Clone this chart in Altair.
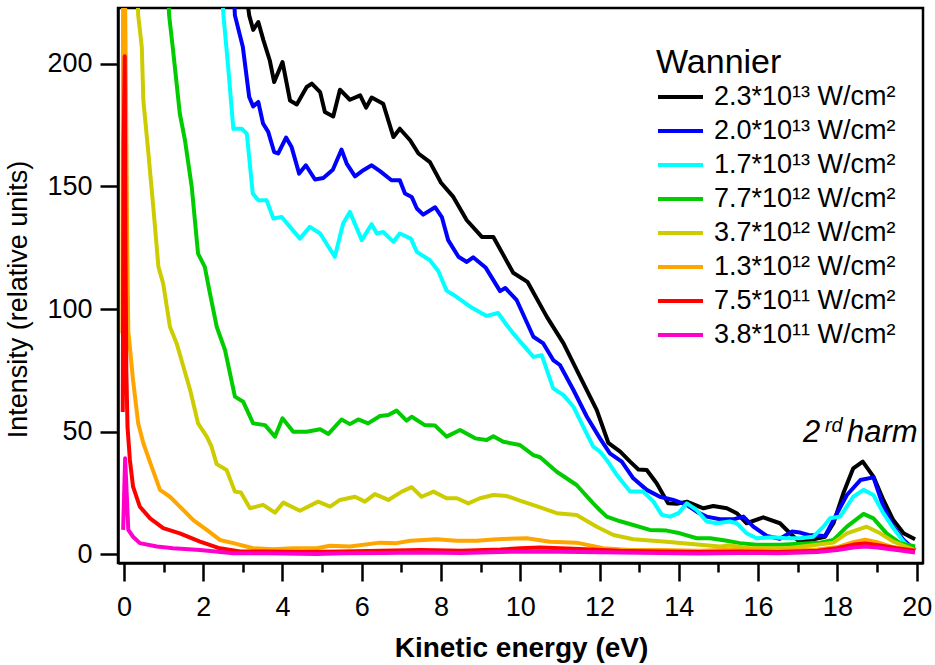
import altair as alt
import pandas as pd

# ---------------- data ----------------
labels = ["2.3*10¹³ W/cm²", "2.0*10¹³ W/cm²", "1.7*10¹³ W/cm²", "7.7*10¹² W/cm²",
          "3.7*10¹² W/cm²", "1.3*10¹² W/cm²", "7.5*10¹¹ W/cm²", "3.8*10¹¹ W/cm²"]
colors = ["#000000", "#0000ff", "#00ffff", "#00cc00", "#cccc00", "#ffa500", "#ff0000", "#ff00cc"]

black_x = [3.0, 3.16, 3.26, 3.39, 3.52, 3.68, 3.79, 4.0, 4.19, 4.36, 4.61, 4.74, 4.95, 5.07, 5.28, 5.45,
           5.70, 5.96, 6.11, 6.25, 6.54, 6.80, 6.96, 7.22, 7.43, 7.72, 8.0, 8.31, 8.65, 9.03, 9.32, 9.82,
           10.18, 10.67, 11.09, 11.51, 11.93, 12.22, 12.52, 12.77, 12.98, 13.19, 13.44, 13.73, 13.95,
           14.20, 14.62, 14.87, 15.21, 15.46, 15.71, 16.13, 16.55, 16.85, 17.06, 17.39, 17.69, 17.90,
           18.15, 18.40, 18.64, 18.91, 19.16, 19.41, 19.67, 19.96]
black_y = [240, 219.7, 213.8, 217, 209.5, 201.3, 192.5, 200.7, 185, 183.4, 190.5, 191.9, 188.4, 180.3,
           178.5, 189.4, 185.3, 187.1, 182.1, 186.2, 183.7, 170.1, 173.5, 168.8, 163.4, 159.9, 151.5,
           145.7, 136.2, 129.4, 129.4, 114.8, 111.1, 96.8, 86, 72.4, 58.8, 45.5, 41.9, 37.8, 34.6, 34.4,
           29, 20.8, 20.6, 21.5, 18.8, 19.7, 18.8, 16.8, 12.7, 15.1, 12.7, 7.9, 5.0, 6.2, 7.2, 12.7,
           24.9, 35.1, 37.8, 31.7, 22.2, 14.0, 8.6, 6.2]

blue_x = [2.75, 2.80, 3.0, 3.16, 3.26, 3.39, 3.51, 3.64, 3.79, 3.89, 4.09, 4.23, 4.42, 4.59, 4.82, 5.03,
          5.27, 5.49, 5.62, 5.83, 6.04, 6.25, 6.46, 6.75, 6.96, 7.09, 7.26, 7.39, 7.55, 7.85, 8.02, 8.18,
          8.44, 8.65, 8.81, 9.13, 9.49, 9.62, 9.91, 10.33, 10.58, 10.83, 11.0, 11.34, 11.68, 12.01,
          12.26, 12.56, 12.85, 13.19, 13.52, 13.86, 14.20, 14.45, 14.70, 15.04, 15.37, 15.63, 15.88,
          16.22, 16.55, 16.85, 17.06, 17.27, 17.69, 17.90, 18.24, 18.58, 18.91, 19.16, 19.41, 19.67, 19.96]
blue_y = [235, 219.7, 206.8, 186.4, 182.6, 184.4, 175.6, 172.2, 164.0, 163.4, 169.9, 166, 155.2, 158.6,
          152.8, 153.4, 156.8, 165, 159.3, 154.1, 156.6, 158.6, 156.2, 152.5, 152.5, 147.1, 145.7, 141,
          138.5, 141.5, 137.5, 128.1, 121.3, 119.2, 121.1, 116.8, 107.3, 108.6, 103.6, 88.7, 86, 79.2,
          77.2, 67, 56.1, 47.3, 41.2, 37.8, 31.0, 26.3, 23.5, 22.2, 20.2, 17.4, 15.4, 14.3, 14.3, 15.4,
          11.3, 7.5, 6.4, 9.3, 8.9, 7.9, 7.5, 14.0, 24.2, 30.3, 31.4, 19.5, 11.3, 5.9, 1.8]

cyan_x = [2.45, 2.51, 2.63, 2.76, 2.97, 3.10, 3.25, 3.39, 3.60, 3.77, 3.98, 4.19, 4.44, 4.69, 4.95, 5.32,
          5.53, 5.70, 6.0, 6.25, 6.38, 6.54, 6.80, 6.96, 7.24, 7.39, 7.72, 7.93, 8.14, 8.39, 8.77, 9.15,
          9.44, 9.66, 9.82, 10.33, 10.54, 10.83, 11.09, 11.34, 11.59, 11.84, 12.01, 12.18, 12.43, 12.77,
          13.10, 13.36, 13.57, 13.78, 13.99, 14.20, 14.45, 14.70, 14.95, 15.29, 15.46, 15.71, 15.96,
          16.38, 16.72, 17.06, 17.39, 17.65, 17.81, 18.07, 18.40, 18.66, 18.91, 19.16, 19.41, 19.67, 19.92]
cyan_y = [235, 219.7, 198.6, 173.5, 173.5, 171.5, 147.1, 144.3, 144.3, 136.9, 137.5, 133.5, 128.7, 133.5,
          130.8, 121.3, 134.9, 139.6, 128.1, 134.6, 130.8, 131.4, 127.4, 130.8, 128.7, 123.3, 119.9,
          115.5, 107.5, 105, 100.6, 97.2, 98.4, 93.4, 90.1, 80.5, 81.2, 67.7, 64.9, 60.2, 52, 43.9, 41.9,
          38.5, 32.5, 25.6, 25.6, 21.5, 16.1, 15.4, 16.8, 20.8, 18.1, 13.4, 12.7, 13.4, 12.7, 8.6, 6.6,
          7.0, 6.6, 6.6, 7.2, 11.3, 14.7, 15.4, 23.5, 26.3, 24.2, 16.8, 10.7, 5.2, 1.5]

green_x = [1.10, 1.14, 1.24, 1.41, 1.54, 1.71, 1.87, 2.04, 2.17, 2.34, 2.55, 2.80, 3.01, 3.26, 3.56, 3.81,
           4.0, 4.27, 4.61, 4.95, 5.16, 5.49, 5.70, 5.91, 6.16, 6.46, 6.67, 6.88, 7.13, 7.26, 7.59, 7.85,
           8.14, 8.48, 8.86, 9.15, 9.32, 9.57, 9.99, 10.33, 10.50, 10.92, 11.42, 11.84, 12.01, 12.18,
           12.52, 12.85, 13.27, 13.69, 14.03, 14.45, 14.79, 15.21, 15.54, 15.96, 16.55, 17.06, 17.56,
           17.90, 18.24, 18.66, 18.91, 19.24, 19.58, 19.96]
green_y = [235, 219.7, 205.4, 179.6, 168.8, 149.8, 122.6, 117.2, 106.4, 92.8, 83.3, 64.3, 62.2, 53.4,
           52.7, 48, 55.5, 50, 50, 51, 49.1, 55, 53.1, 55, 53.4, 56.4, 56.8, 58.6, 54.5, 56.1, 52.7, 52.5,
           48, 50.7, 47.3, 46.6, 48.2, 45.9, 44.6, 40.5, 39.6, 33.7, 28.3, 20.8, 18.0, 15.4, 13.5, 12, 10,
           9.7, 8.6, 6.6, 6.6, 5.6, 4.6, 3.9, 3.9, 4.3, 4.8, 5.9, 11.3, 16.5, 14.7, 8.6, 4.6, 3.2]

olive_x = [0.33, 0.36, 0.45, 0.49, 0.61, 0.74, 0.87, 0.99, 1.16, 1.33, 1.50, 1.67, 1.87, 2.09, 2.21, 2.34,
           2.59, 2.80, 2.95, 3.18, 3.51, 3.81, 4.02, 4.44, 4.90, 5.20, 5.45, 5.83, 6.08, 6.33, 6.67, 7.01,
           7.26, 7.51, 7.81, 8.14, 8.40, 8.69, 8.98, 9.32, 9.66, 9.99, 10.41, 10.92, 11.42, 11.93, 12.35,
           12.85, 13.69, 14.53, 15.04, 15.29, 15.80, 16.72, 17.48, 17.90, 18.24, 18.74, 19.08, 19.41, 19.96]
olive_y = [235, 219.7, 206.8, 185, 164.7, 141.6, 117.2, 110.4, 92.8, 86, 76.5, 67, 53.4, 48, 43.9, 36.8,
           34.4, 25.6, 25.2, 18.8, 20.2, 17, 21.1, 17.8, 21.5, 19.5, 22.2, 23.5, 21.5, 24.6, 22.2, 25.6,
           27.4, 23.5, 25.6, 22.9, 22.9, 20.8, 22.9, 24.2, 23.8, 21.9, 19.7, 16.8, 16.1, 11.3, 7.9, 6.2,
           5.2, 3.9, 3.2, 3.6, 2.5, 2.5, 3.9, 4.8, 8.6, 11.3, 8.6, 5.2, 1.8]

orange_x = [-0.04, -0.02, 0.02, 0.05, 0.08, 0.11, 0.23, 0.36, 0.49, 0.70, 0.91, 1.16, 1.41, 1.75, 2.09,
            2.42, 2.76, 3.26, 3.77, 4.27, 4.86, 5.20, 5.70, 6.46, 6.88, 7.22, 7.89, 8.39, 8.90, 9.40,
            10.16, 10.75, 11.42, 12.09, 12.77, 13.5, 14.5, 15.5, 16.5, 17.5, 18.0, 18.4, 18.7, 19.0,
            19.4, 19.96]
orange_y = [90, 240, 240, 190, 130, 91, 71, 53.4, 45.3, 35.7, 26.3, 23.5, 19.5, 14, 10, 5.9, 4.6, 2.5,
            2.1, 2.5, 2.5, 3.5, 3.2, 4.8, 4.6, 5.6, 6.2, 5.6, 5.6, 6.2, 6.6, 5.2, 4.8, 2.5, 1.8, 1.8, 1.5,
            2.0, 1.5, 2.0, 3.0, 5.0, 6.0, 5.0, 3.0, 1.5]

red_x = [-0.03, -0.01, 0.02, 0.04, 0.06, 0.09, 0.15, 0.23, 0.40, 0.66, 0.99, 1.41, 1.92, 2.42, 2.93, 3.6,
         4.5, 5.5, 6.5, 7.5, 8.5, 9.5, 10.0, 10.5, 11.0, 11.5, 12.5, 13.5, 14.5, 15.5, 16.5, 17.5, 18.0,
         18.4, 18.7, 19.0, 19.5, 19.96]
red_y = [58, 165, 203, 120, 75, 52, 38.5, 27.6, 19.5, 14.7, 10.7, 8.6, 5.2, 2.5, 1.2, 1.2, 1.0, 1.2, 1.5,
         1.8, 1.5, 2.0, 2.5, 2.8, 2.5, 2.2, 1.5, 1.2, 1.0, 1.2, 1.0, 1.5, 2.5, 4.0, 4.5, 3.8, 2.5, 1.5]

pink_x = [-0.02, 0.03, 0.11, 0.23, 0.40, 0.83, 1.24, 1.92, 2.76, 3.6, 4.86, 5.5, 6.5, 7.5, 8.5, 9.5, 10.5,
          11.5, 12.5, 13.5, 14.5, 15.5, 16.5, 17.5, 18.0, 18.4, 18.7, 19.0, 19.5, 19.96]
pink_y = [10, 39.2, 10, 7.2, 4.6, 3.2, 2.5, 1.8, 0.5, 0.5, 0.2, 0.5, 0.6, 0.8, 0.6, 1.0, 1.2, 1.0, 0.8, 0.6,
          0.4, 0.6, 0.5, 1.0, 1.8, 2.8, 3.2, 2.8, 1.8, 0.8]

x_major = [0, 2, 4, 6, 8, 10, 12, 14, 16, 18, 20]
x_minor = [1, 3, 5, 7, 9, 11, 13, 15, 17, 19]
y_ticks = [0, 50, 100, 150, 200]

annot_x = [17.13]
annot_y = [45.9]

# ---------------- build table ----------------
all_x = [black_x, blue_x, cyan_x, green_x, olive_x, orange_x, red_x, pink_x]
all_y = [black_y, blue_y, cyan_y, green_y, olive_y, orange_y, red_y, pink_y]
rows = []
for lab, xs, ys in zip(labels, all_x, all_y):
    for i, (xv, yv) in enumerate(zip(xs, ys)):
        rows.append({"series": lab, "E": xv, "I": yv, "o": i})
df = pd.DataFrame(rows)
ann = pd.DataFrame({"E": annot_x, "I": annot_y})

FONT = "Liberation Sans"
xscale = alt.Scale(domain=[-0.15, 20.16], nice=False, zero=False)
yscale = alt.Scale(domain=[-3.5, 222.7], nice=False, zero=False)

lines = alt.Chart(df).mark_line(strokeWidth=4, clip=True, strokeJoin="round").encode(
    x=alt.X("E:Q", scale=xscale,
            axis=alt.Axis(values=x_major, tickSize=18, tickWidth=2.5, tickColor="black",
                          domainColor="black", domainWidth=2.5, grid=False,
                          labelFont=FONT, labelFontSize=27, labelColor="black", labelPadding=13,
                          title="Kinetic energy (eV)", titleFont=FONT, titleFontSize=28,
                          titleFontWeight="bold", titleColor="black",
                          titleX=403, titleY=85, titleBaseline="middle", orient="bottom")),
    y=alt.Y("I:Q", scale=yscale,
            axis=alt.Axis(values=y_ticks, tickSize=18, tickWidth=2.5, tickColor="black",
                          domainColor="black", domainWidth=2.5, grid=False,
                          labelFont=FONT, labelFontSize=27, labelColor="black", labelPadding=8,
                          title="Intensity (relative units)", titleFont=FONT, titleFontSize=27,
                          titleFontWeight="normal", titleColor="black",
                          titleX=-100, titleY=291, titleAngle=270, titleBaseline="middle",
                          titleAlign="center")),
    color=alt.Color("series:N", scale=alt.Scale(domain=labels, range=colors),
                    legend=alt.Legend(orient="none", legendX=538, legendY=38, title="Wannier",
                                      titleFont=FONT, titleFontSize=34, titleFontWeight="normal",
                                      titleColor="black", titlePadding=0,
                                      labelFont=FONT, labelFontSize=27, labelColor="black",
                                      symbolType="M-1,0H2", symbolSize=900,
                                      symbolStrokeWidth=4, labelOffset=24, rowPadding=4,
                                      labelLimit=400)),
    order="o:Q",
)

minor = alt.Chart(ann).mark_text(text="2", font=FONT, fontSize=31, fontStyle="italic",
                                 align="left", baseline="alphabetic", color="black").encode(
    x=alt.X("E:Q", scale=xscale,
            axis=alt.Axis(values=x_minor, tickSize=9, tickWidth=2.5, tickColor="black",
                          labels=False, domain=False, grid=False, title=None, orient="bottom")),
    y=alt.Y("I:Q", scale=yscale, axis=None),
)
sup = alt.Chart(ann).mark_text(text="rd", font=FONT, fontSize=20, fontStyle="italic",
                               align="left", baseline="alphabetic", color="black",
                               dx=22, dy=-10).encode(
    x=alt.X("E:Q", scale=xscale, axis=None),
    y=alt.Y("I:Q", scale=yscale, axis=None),
)
harm = alt.Chart(ann).mark_text(text="harm", font=FONT, fontSize=31, fontStyle="italic",
                                align="left", baseline="alphabetic", color="black",
                                dx=44).encode(
    x=alt.X("E:Q", scale=xscale, axis=None),
    y=alt.Y("I:Q", scale=yscale, axis=None),
)

chart = alt.layer(lines, minor, sup, harm).resolve_axis(x="independent", y="independent").properties(
    width=805, height=555,
    autosize=alt.AutoSizeParams(type="none"),
    padding={"left": 118, "top": 8, "right": 12, "bottom": 102},
    background="white",
).configure_view(stroke="black", strokeWidth=2.5)

chart.save("out.html", embed_options={"renderer": "svg", "actions": False})
